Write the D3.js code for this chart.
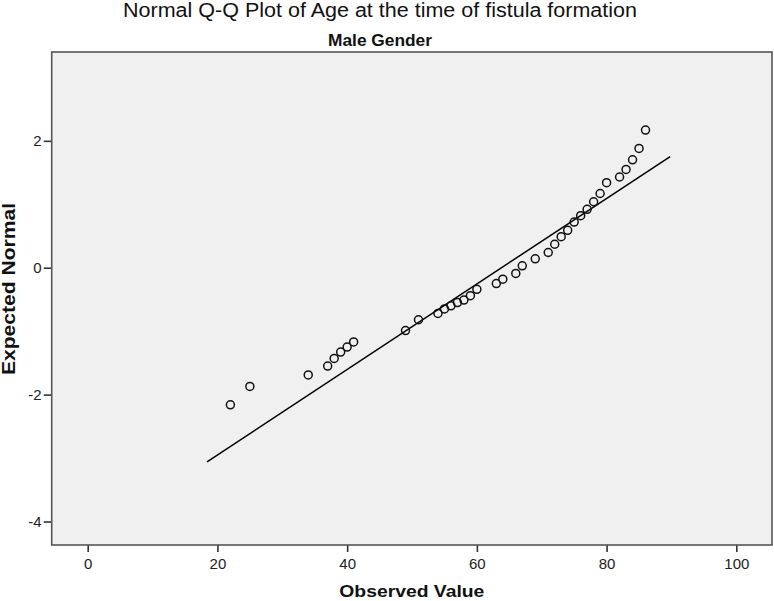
<!DOCTYPE html>
<html>
<head>
<meta charset="utf-8">
<script src="https://cdn.jsdelivr.net/npm/d3@7"></script>
<style>
  body { margin: 0; background: #fff; }
  svg { display: block; font-family: "Liberation Sans", Arial, sans-serif; }
</style>
</head>
<body>
<div id="chart"></div>
<script>
//data
var observed = [22, 25, 34, 37, 38, 39, 40, 41, 49, 51, 54, 55, 56, 57, 58, 59, 60,
	63, 64, 66, 67, 69, 71, 72, 73, 74, 75, 76, 77, 78, 79, 80, 82, 83, 84, 85, 86];
var expected = [-2.16, -1.87, -1.69, -1.55, -1.43, -1.33, -1.25, -1.17, -0.99, -0.82,
	-0.72, -0.65, -0.60, -0.55, -0.51, -0.44, -0.34, -0.25, -0.18, -0.09, 0.03, 0.14,
	0.24, 0.37, 0.49, 0.59, 0.72, 0.82, 0.92, 1.04, 1.17, 1.34, 1.43, 1.55, 1.70, 1.88, 2.17];

//reference line: (x - mean) / sd over its drawn span
var lineSpan = [18.4, 89.8];
var lineMean = 63.8,
	lineSd = 14.84;

var xTicks = [0, 20, 40, 60, 80, 100];
var yTicks = [-4, -2, 0, 2];

var title = "Normal Q-Q Plot of Age at the time of fistula formation",
	subtitle = "Male Gender",
	xTitle = "Observed Value",
	yTitle = "Expected Normal";

var width = 774,
	height = 601;

var svg = d3.select("#chart").append("svg")
			.attr("width", width)
			.attr("height", height);

//scales, frame edges at the domain ends
var x = d3.scaleLinear().domain([-5.55, 105.5]).range([51.7, 772]);
var y = d3.scaleLinear().domain([-4.37, 3.4]).range([545, 52]);

//plot background
svg.append("rect")
	.attr("x", x.range()[0])
	.attr("y", y.range()[1])
	.attr("width", x.range()[1] - x.range()[0])
	.attr("height", y.range()[0] - y.range()[1])
	.attr("fill", "#f0f0f0");

//axes (plain hyphen for negatives, like the original)
var xAxis = svg.append("g")
	.attr("transform", "translate(0," + y.range()[0] + ")")
	.call(d3.axisBottom(x).tickValues(xTicks).tickFormat(String).tickSize(7).tickPadding(6));

var yAxis = svg.append("g")
	.attr("transform", "translate(" + x.range()[0] + ",0)")
	.call(d3.axisLeft(y).tickValues(yTicks).tickFormat(String).tickSize(8).tickPadding(2));

[xAxis, yAxis].forEach(function(g){
	g.select(".domain").remove();
	g.selectAll(".tick line").attr("stroke", "#333").attr("stroke-width", 1.6);
	g.selectAll(".tick text")
		.attr("fill", "#222")
		.style("font-size", "15px")
		.style("font-family", "\"Liberation Sans\", Arial, sans-serif");
});

//frame line drawn on top of the ticks
svg.append("rect")
	.attr("x", x.range()[0])
	.attr("y", y.range()[1])
	.attr("width", x.range()[1] - x.range()[0])
	.attr("height", y.range()[0] - y.range()[1])
	.attr("fill", "none")
	.attr("stroke", "#555")
	.attr("stroke-width", 1.6);

//reference line
var line = d3.line()
	.x(function(d){ return x(d); })
	.y(function(d){ return y((d - lineMean) / lineSd); });

svg.append("path")
	.datum(lineSpan)
	.attr("d", line)
	.attr("fill", "none")
	.attr("stroke", "#000")
	.attr("stroke-width", 1.5);

//points
svg.selectAll("circle.pt")
	.data(observed)
	.enter()
	.append("circle")
	.attr("class", "pt")
	.attr("cx", function(d){ return x(d); })
	.attr("cy", function(d, i){ return y(expected[i]); })
	.attr("r", 4)
	.attr("fill", "none")
	.attr("stroke", "#111")
	.attr("stroke-width", 1.5);

//titles
svg.append("text")
	.attr("x", 380)
	.attr("y", 16.5)
	.attr("text-anchor", "middle")
	.attr("textLength", 514)
	.attr("lengthAdjust", "spacingAndGlyphs")
	.style("font-size", "20px")
	.attr("fill", "#111")
	.text(title);

svg.append("text")
	.attr("x", 380)
	.attr("y", 45.5)
	.attr("text-anchor", "middle")
	.attr("textLength", 104)
	.attr("lengthAdjust", "spacingAndGlyphs")
	.style("font-size", "16px")
	.style("font-weight", "bold")
	.attr("fill", "#111")
	.text(subtitle);

svg.append("text")
	.attr("x", (x.range()[0] + x.range()[1]) / 2)
	.attr("y", 597)
	.attr("text-anchor", "middle")
	.attr("textLength", 145)
	.attr("lengthAdjust", "spacingAndGlyphs")
	.style("font-size", "17px")
	.style("font-weight", "bold")
	.attr("fill", "#111")
	.text(xTitle);

svg.append("text")
	.attr("transform", "translate(15,289) rotate(-90)")
	.attr("text-anchor", "middle")
	.attr("textLength", 172)
	.attr("lengthAdjust", "spacingAndGlyphs")
	.style("font-size", "18px")
	.style("font-weight", "bold")
	.attr("fill", "#111")
	.text(yTitle);
</script>
</body>
</html>
